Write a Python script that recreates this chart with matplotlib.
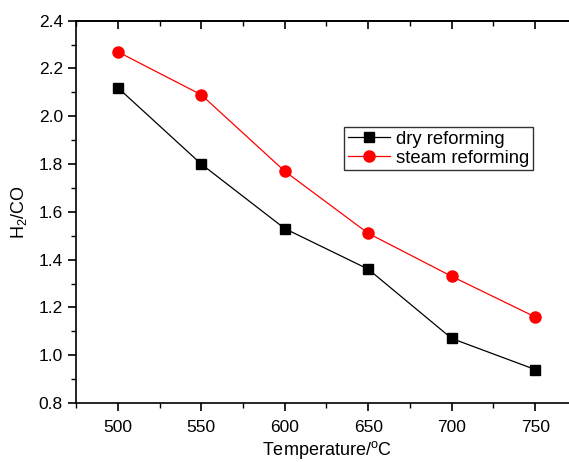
import matplotlib
matplotlib.use("Agg")
import matplotlib.pyplot as plt
from matplotlib.ticker import MultipleLocator

plt.rcParams['font.family'] = ['Liberation Sans', 'DejaVu Sans']
plt.rcParams['mathtext.fontset'] = 'custom'
plt.rcParams['mathtext.rm'] = 'Liberation Sans'

temperature = [500, 550, 600, 650, 700, 750]
dry_reforming = [2.12, 1.80, 1.53, 1.36, 1.07, 0.94]
steam_reforming = [2.27, 2.09, 1.77, 1.51, 1.33, 1.16]

fig = plt.figure(figsize=(5.69, 4.62), dpi=100)
ax = fig.add_axes([76/569, 1-403/462, (577-76)/569, (403-20.7)/462])

ax.plot(temperature, dry_reforming, color='black', lw=0.9, marker='s', ms=7,
        label='dry reforming')
ax.plot(temperature, steam_reforming, color='red', lw=0.9, marker='o', ms=8,
        label='steam reforming')

ax.set_xlim(475, 775)
ax.set_ylim(0.8, 2.4)
ax.xaxis.set_major_locator(MultipleLocator(50))
ax.xaxis.set_minor_locator(MultipleLocator(25))
ax.yaxis.set_major_locator(MultipleLocator(0.2))
ax.yaxis.set_minor_locator(MultipleLocator(0.1))
ax.yaxis.set_major_formatter(plt.FuncFormatter(lambda v, p: f"{v:.1f}"))

ax.tick_params(axis='both', which='major', direction='out', length=6, width=1.2,
               labelsize=12.5, top=False, right=False)
ax.tick_params(axis='both', which='minor', direction='out', length=3.5, width=1.0,
               top=False, right=False)
ax.tick_params(axis='x', which='major', pad=6)

# top axis: inward ticks, no labels
top = ax.secondary_xaxis('top')
top.xaxis.set_major_locator(MultipleLocator(50))
top.xaxis.set_minor_locator(MultipleLocator(25))
top.tick_params(which='major', direction='in', length=6, width=1.2, labeltop=False)
top.tick_params(which='minor', direction='in', length=3.5, width=1.0)
top.spines['top'].set_linewidth(1.2)

for s in ax.spines.values():
    s.set_linewidth(1.2)

ax.set_xlabel('Temperature/$^{\\rm o}$C', fontsize=13, labelpad=3)
ax.set_ylabel('H$_2$/CO', fontsize=13, labelpad=7)

leg = ax.legend(loc='upper left', bbox_to_anchor=((344-76)/501, 1-(127-20.7)/382.3),
                frameon=True, fancybox=False, edgecolor='black', fontsize=13.3,
                handlelength=2.3, borderpad=0.2, labelspacing=0.1, handletextpad=0.3,
                borderaxespad=0)
leg.get_frame().set_linewidth(1.0)

fig.savefig('out.png', dpi=100)
